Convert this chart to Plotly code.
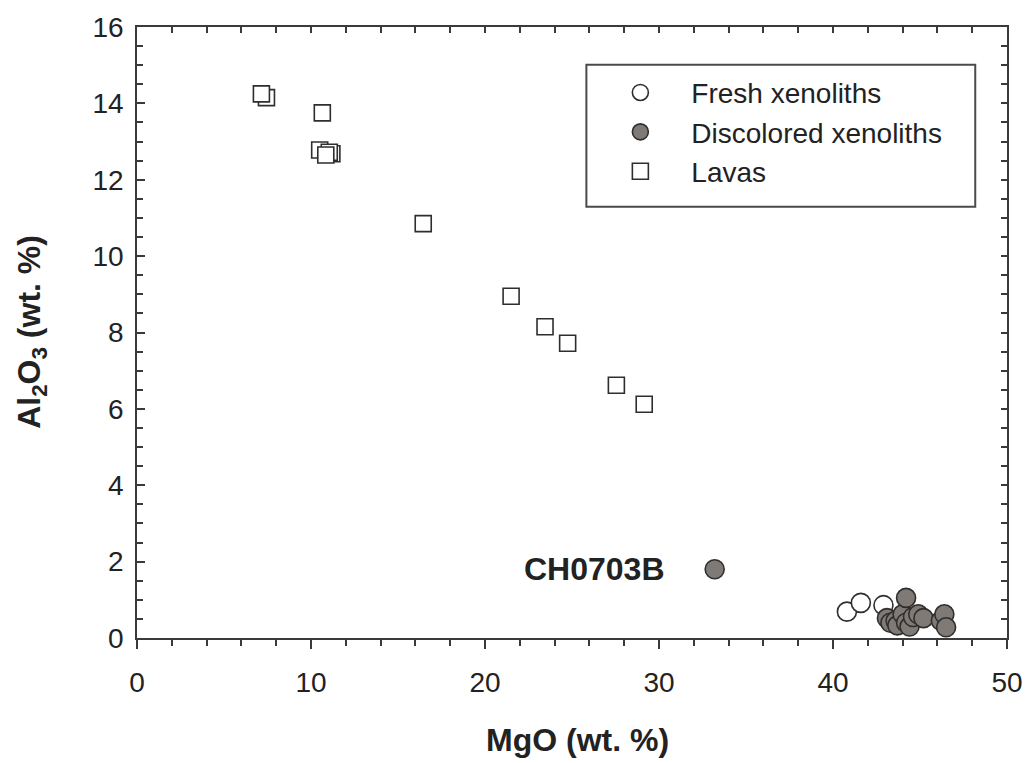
import plotly.graph_objects as go

# ---- data ----
fresh_mgo = [40.8, 41.6, 42.9]
fresh_al2o3 = [0.69, 0.92, 0.86]

disc_mgo = [33.2, 43.1, 43.3, 43.6, 43.7, 44.0, 44.2, 44.2, 44.4, 44.6, 44.9, 45.2, 46.2, 46.4, 46.5]
disc_al2o3 = [1.80, 0.52, 0.40, 0.45, 0.33, 0.62, 1.05, 0.40, 0.30, 0.55, 0.62, 0.52, 0.45, 0.62, 0.28]

lava_mgo = [7.44, 7.15, 10.65, 11.2, 10.5, 11.05, 10.85, 16.45, 21.5, 23.45, 24.75, 27.55, 29.15]
lava_al2o3 = [14.15, 14.25, 13.75, 12.68, 12.78, 12.72, 12.65, 10.85, 8.95, 8.15, 7.72, 6.62, 6.12]

label_name = "CH0703B"
label_mgo = 33.2
label_al2o3 = 1.80

x_range = [0, 50]
y_range = [0, 16]

FONT = "Liberation Sans, Arial, sans-serif"
AX = "#3a3a3a"
EDGE = "#2e2e2e"
GREY = "#807a76"
TXT = "#222222"

# plot area in pixels
L, R, T, B = 137, 1014, 23, 638
W, H = 1035, 763


def fx(px):
    return (px - L) / (R - L)


def fy(py):
    return (B - py) / (B - T)


fig = go.Figure()
fig.add_trace(go.Scatter(x=fresh_mgo, y=fresh_al2o3, mode="markers", name="Fresh xenoliths",
                         marker=dict(symbol="circle", size=19, color="white",
                                     line=dict(color=EDGE, width=1.6))))
fig.add_trace(go.Scatter(x=disc_mgo, y=disc_al2o3, mode="markers", name="Discolored xenoliths",
                         marker=dict(symbol="circle", size=19, color=GREY,
                                     line=dict(color=EDGE, width=1.6))))
fig.add_trace(go.Scatter(x=lava_mgo, y=lava_al2o3, mode="markers", name="Lavas",
                         marker=dict(symbol="square", size=16, color="white",
                                     line=dict(color=EDGE, width=1.6))))
# invisible trace for the mirrored axes
fig.add_trace(go.Scatter(x=[None], y=[None], xaxis="x2", yaxis="y2", showlegend=False,
                         hoverinfo="skip"))

fig.update_layout(
    width=W, height=H,
    margin=dict(l=L, r=W - R, t=T, b=H - B),
    paper_bgcolor="white", plot_bgcolor="white",
    font=dict(family=FONT, color=TXT),
    showlegend=True,
    legend=dict(x=fx(593), y=fy(64), xanchor="left", yanchor="top",
                bgcolor="rgba(0,0,0,0)", borderwidth=0, itemwidth=92,
                font=dict(size=28, family=FONT, color=TXT),
                tracegroupgap=0),
    xaxis=dict(range=x_range, dtick=10, tick0=0, ticks="outside", ticklen=9, tickwidth=1.5,
               tickcolor=AX, showline=True, linecolor=AX, linewidth=1.6, showgrid=False,
               zeroline=False, tickfont=dict(size=28, family=FONT, color=TXT),
               ticklabelstandoff=10,
               minor=dict(dtick=2, ticks="outside", ticklen=6, tickwidth=1.5, tickcolor=AX,
                          showgrid=False)),
    xaxis2=dict(range=x_range, overlaying="x", side="top", anchor="y", dtick=2, ticks="inside",
                ticklen=6, tickwidth=1.5, tickcolor=AX, showline=True, linecolor=AX,
                linewidth=1.6, showgrid=False, zeroline=False, showticklabels=False),
    yaxis=dict(range=y_range, dtick=2, tick0=0, ticks="inside", ticklen=8, tickwidth=1.5,
               tickcolor=AX, showline=True, linecolor=AX, linewidth=1.6, showgrid=False,
               zeroline=False, tickfont=dict(size=28, family=FONT, color=TXT),
               ticklabelstandoff=6,
               minor=dict(dtick=0.5, ticks="inside", ticklen=6, tickwidth=1.5, tickcolor=AX,
                          showgrid=False)),
    yaxis2=dict(range=y_range, overlaying="y", side="right", anchor="x", dtick=0.5,
                ticks="inside", ticklen=6, tickwidth=1.5, tickcolor=AX, showline=True,
                linecolor=AX, linewidth=1.6, showgrid=False, zeroline=False,
                showticklabels=False),
)

# legend box
fig.add_shape(type="rect", xref="paper", yref="paper",
              x0=fx(590), x1=fx(982), y0=fy(204), y1=fy(61),
              line=dict(color="#4a4a4a", width=2), fillcolor="rgba(0,0,0,0)", layer="above")

# axis titles
fig.add_annotation(text="<b>MgO (wt. %)</b>", xref="paper", yref="paper",
                   x=fx(581), y=fy(741), xanchor="center", yanchor="middle",
                   showarrow=False, font=dict(size=32, family=FONT, color=TXT))
fig.add_annotation(text="<b>Al<sub>2</sub>O<sub>3</sub> (wt. %)</b>", xref="paper", yref="paper",
                   x=fx(30), y=fy(330), xanchor="center", yanchor="middle",
                   textangle=-90, showarrow=False,
                   font=dict(size=32, family=FONT, color=TXT))
# sample label
fig.add_annotation(text="<b>" + label_name + "</b>", x=label_mgo, y=label_al2o3,
                   xref="x", yref="y", xanchor="right", yanchor="middle", xshift=-48,
                   showarrow=False, font=dict(size=32, family=FONT, color=TXT))

fig.write_html("out.html")
